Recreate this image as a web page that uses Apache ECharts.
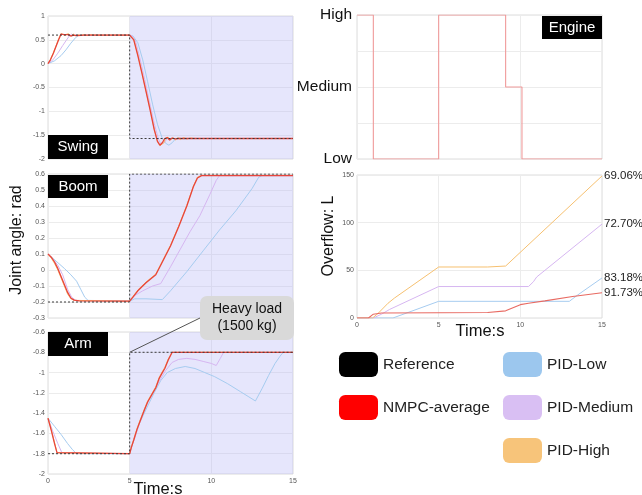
<!DOCTYPE html>
<html><head><meta charset="utf-8">
<script src="https://cdn.jsdelivr.net/npm/echarts@6/dist/echarts.min.js"></script>
<style>html,body{margin:0;padding:0;background:#fff}#c{width:642px;height:495px}</style>
</head><body><div id="c"></div>
<script>
// ---------------- DATA ----------------
const xTicks = [0, 5, 10, 15];
const engineLevelNames = ['Low', 'Medium', 'High'];
const engineTime = [0, 1, 5, 9.1, 10.1, 15];
const engineLevel = [2, 0, 2, 1, 0, 0];

// Swing [t, rad]
const swingRef = [[0,0.6],[5,0.6],[5,-1.57],[15,-1.57]];
const swingNMPC = [[0,0],[0.15,0.08],[0.33,0.22],[0.5,0.37],[0.65,0.5],[0.8,0.62],[0.9,0.65],[1.0,0.61],[1.1,0.57],[1.25,0.61],[1.4,0.58],[1.55,0.6],[1.8,0.59],[2.2,0.6],[5,0.6],[5.1,0.58],[5.25,0.5],[5.5,0.17],[5.75,-0.2],[6.0,-0.58],[6.25,-0.97],[6.5,-1.38],[6.7,-1.63],[6.85,-1.71],[7.0,-1.66],[7.15,-1.57],[7.3,-1.55],[7.45,-1.6],[7.6,-1.56],[7.8,-1.58],[8.0,-1.57],[15,-1.57]];
const swingHigh = [[0,0],[0.15,0.09],[0.33,0.23],[0.5,0.38],[0.65,0.52],[0.8,0.63],[0.9,0.66],[1.0,0.6],[1.1,0.57],[1.25,0.63],[1.4,0.58],[1.55,0.62],[1.7,0.58],[1.85,0.61],[2.0,0.59],[2.2,0.61],[2.4,0.59],[2.6,0.61],[2.8,0.6],[3.0,0.6],[5,0.6],[5.1,0.58],[5.25,0.51],[5.5,0.19],[5.75,-0.18],[6.0,-0.56],[6.25,-0.95],[6.5,-1.36],[6.7,-1.62],[6.85,-1.72],[6.95,-1.74],[7.1,-1.66],[7.2,-1.56],[7.35,-1.54],[7.5,-1.6],[7.65,-1.55],[7.8,-1.6],[7.95,-1.55],[8.1,-1.59],[8.3,-1.55],[8.5,-1.58],[8.7,-1.56],[9.0,-1.57],[15,-1.57]];
const swingMed = [[0,0],[0.3,0.08],[0.6,0.22],[0.9,0.38],[1.1,0.48],[1.3,0.58],[1.45,0.62],[1.6,0.59],[1.8,0.61],[2.0,0.59],[2.3,0.6],[5,0.6],[5.15,0.58],[5.35,0.48],[5.6,0.15],[5.9,-0.3],[6.2,-0.78],[6.5,-1.25],[6.75,-1.57],[6.9,-1.68],[7.0,-1.7],[7.15,-1.65],[7.3,-1.56],[7.45,-1.6],[7.6,-1.56],[7.8,-1.59],[8.0,-1.57],[15,-1.57]];
const swingLow = [[0,0],[0.4,0.06],[0.8,0.17],[1.1,0.29],[1.4,0.43],[1.7,0.55],[1.9,0.6],[5,0.6],[5.2,0.58],[5.5,0.44],[5.8,0.08],[6.1,-0.38],[6.4,-0.85],[6.7,-1.27],[7.0,-1.57],[7.2,-1.67],[7.4,-1.71],[7.6,-1.66],[7.8,-1.58],[8.0,-1.56],[8.3,-1.58],[8.6,-1.57],[15,-1.57]];

// Boom [t, rad]
const boomRef = [[0,-0.2],[5,-0.2],[5,0.6],[15,0.6]];
const boomNMPC = [[0,0.1],[0.2,0.08],[0.4,0.05],[0.6,0.01],[0.8,-0.04],[1.0,-0.09],[1.2,-0.14],[1.4,-0.175],[1.6,-0.188],[1.9,-0.193],[5,-0.195],[5.2,-0.17],[5.5,-0.13],[6.0,-0.08],[6.6,-0.03],[7.0,0.05],[7.5,0.15],[8.0,0.27],[8.5,0.4],[8.9,0.52],[9.15,0.575],[9.4,0.59],[15,0.59]];
const boomHigh = [[0,0.1],[0.2,0.075],[0.4,0.04],[0.6,0.0],[0.8,-0.05],[1.0,-0.1],[1.2,-0.15],[1.4,-0.18],[1.6,-0.19],[5,-0.195],[5.2,-0.165],[5.5,-0.125],[6.0,-0.075],[6.6,-0.025],[7.0,0.055],[7.5,0.155],[8.0,0.275],[8.5,0.405],[8.9,0.525],[9.15,0.58],[9.4,0.592],[15,0.592]];
const boomMed = [[0,0.1],[0.3,0.07],[0.6,0.03],[0.9,-0.03],[1.2,-0.12],[1.45,-0.17],[1.7,-0.19],[5,-0.195],[5.3,-0.16],[5.8,-0.13],[6.4,-0.1],[6.9,-0.085],[7.5,0.02],[8.1,0.13],[8.7,0.24],[9.3,0.34],[9.9,0.47],[10.3,0.56],[10.5,0.59],[15,0.59]];
const boomLow = [[0,0.1],[0.5,0.055],[1.0,0.01],[1.4,-0.03],[1.75,-0.07],[2.0,-0.12],[2.25,-0.17],[2.45,-0.19],[5,-0.195],[5.3,-0.18],[6.0,-0.18],[7.0,-0.185],[7.5,-0.13],[8.5,-0.01],[9.5,0.12],[10.5,0.25],[11.5,0.37],[12.5,0.51],[12.9,0.58],[13.1,0.59],[15,0.59]];

// Arm [t, rad]
const armRef = [[0,-1.8],[5,-1.8],[5,-0.8],[15,-0.8]];
const armNMPC = [[0,-1.45],[0.2,-1.57],[0.4,-1.7],[0.55,-1.79],[0.65,-1.8],[5,-1.8],[5.1,-1.74],[5.25,-1.665],[5.45,-1.56],[5.66,-1.47],[5.9,-1.37],[6.1,-1.29],[6.35,-1.22],[6.6,-1.15],[6.8,-1.06],[7.0,-1.0],[7.15,-0.96],[7.35,-0.88],[7.6,-0.8],[15,-0.8]];
const armHigh = [[0,-1.45],[0.2,-1.56],[0.4,-1.69],[0.55,-1.79],[0.65,-1.8],[5,-1.8],[5.1,-1.73],[5.25,-1.66],[5.45,-1.55],[5.66,-1.46],[5.9,-1.36],[6.1,-1.28],[6.35,-1.21],[6.6,-1.14],[6.8,-1.05],[7.0,-0.99],[7.15,-0.95],[7.35,-0.87],[7.6,-0.8],[15,-0.8]];
const armMed = [[0,-1.45],[0.3,-1.58],[0.6,-1.7],[0.85,-1.79],[0.95,-1.8],[5,-1.8],[5.1,-1.74],[5.3,-1.65],[5.6,-1.5],[6.0,-1.33],[6.4,-1.2],[6.8,-1.09],[7.2,-0.98],[7.6,-0.9],[8.0,-0.87],[8.5,-0.86],[9.0,-0.87],[9.5,-0.89],[10.0,-0.91],[10.3,-0.93],[10.55,-0.86],[10.75,-0.8],[15,-0.8]];
const armLow = [[0,-1.45],[0.4,-1.53],[0.8,-1.61],[1.2,-1.7],[1.5,-1.76],[1.75,-1.8],[5,-1.8],[5.1,-1.74],[5.3,-1.64],[5.6,-1.5],[6.07,-1.34],[6.5,-1.2],[6.9,-1.08],[7.3,-1.0],[7.8,-0.96],[8.4,-0.94],[9.0,-0.96],[9.6,-1.0],[10.2,-1.04],[11.0,-1.11],[11.8,-1.19],[12.3,-1.24],[12.7,-1.28],[13.1,-1.16],[13.5,-1.03],[13.9,-0.91],[14.2,-0.84],[14.4,-0.8],[15,-0.8]];

// Overflow [t, L]
const overNMPC = [[0,0],[0.7,0],[1.0,4],[1.5,5.3],[5,5.5],[8,5.7],[9.1,7.5],[10,14],[10.5,15.5],[11.5,18],[13.2,22.5],[15,26.5]];
const overHigh = [[0,0],[0.95,0],[1.3,5],[1.9,15.5],[2.3,21],[5,53.5],[8,53.5],[9.1,54.5],[15,149]];
const overMed = [[0,0],[1.0,0],[1.5,4],[2,9],[5,33],[10.5,33],[10.8,38],[11.0,43],[15,98.5]];
const overLow = [[0,0],[2.2,0],[5,17.5],[13,17.5],[13.5,24],[15,42]];
const overPct = {'NMPC-average':'91.73%','PID-Low':'83.18%','PID-Medium':'72.70%','PID-High':'69.06%'};

// ---------------- STYLE ----------------
const FONT = 'Liberation Sans, Arial, Helvetica, sans-serif';
const C = {ref:'#3a3a3a', nmpc:'#e8453c', low:'#a6ccf0', med:'#d6b6f1', high:'#f6c070', engine:'#f09a9a'};
const grids = [
  {left:48, top:16, width:245, height:143},
  {left:48, top:174, width:245, height:144},
  {left:48, top:332, width:245, height:142},
  {left:357, top:15, width:245, height:144},
  {left:357, top:175, width:245, height:143}
];
const yCfg = [
  {min:-2, max:1, interval:0.5},
  {min:-0.3, max:0.6, interval:0.1},
  {min:-2, max:-0.6, interval:0.2},
  {min:0, max:2, interval:0.5},
  {min:0, max:150, interval:50}
];
const tickLbl = {fontSize:7, color:'#555', fontFamily:FONT};

const xAxis = grids.map((g,i)=>({
  type:'value', gridIndex:i, min:xTicks[0], max:xTicks[xTicks.length-1], interval:xTicks[1]-xTicks[0],
  axisLine:{show:false}, axisTick:{show:false},
  axisLabel: Object.assign({show: i===2 || i===4, margin:4}, tickLbl),
  splitLine:{show:true, lineStyle:{color:'#ececec', width:1}}
}));
const yAxis = yCfg.map((c,i)=>({
  type:'value', gridIndex:i, min:c.min, max:c.max, interval:c.interval,
  axisLine:{show:false}, axisTick:{show:false},
  axisLabel: i===3 ? {fontSize:15.5, color:'#111', fontFamily:FONT, margin:5,
      formatter:v => (Number.isInteger(v) ? engineLevelNames[v] : '')}
    : Object.assign({margin:3}, tickLbl),
  splitLine:{show:true, lineStyle:{color:'#ececec', width:1}}
}));

function line(name, data, gi, color, width, z, extra){
  return Object.assign({
    type:'line', name, data, xAxisIndex:gi, yAxisIndex:gi, showSymbol:false, symbol:'none',
    lineStyle:{color, width}, itemStyle:{color}, z, animation:false, silent:true
  }, extra||{});
}
const shade = {silent:true, itemStyle:{color:'rgba(180,180,245,0.33)'}, data:[[{xAxis:5},{xAxis:15}]]};

const series = [];
const panels = [
  [swingRef, swingNMPC, swingHigh, swingMed, swingLow],
  [boomRef, boomNMPC, boomHigh, boomMed, boomLow],
  [armRef, armNMPC, armHigh, armMed, armLow]
];
panels.forEach((p,gi)=>{
  series.push(line('shade'+gi, [], gi, '#fff', 0, 1, {markArea:shade}));
  series.push(line('PID-Low', p[4], gi, C.low, 1, 2));
  series.push(line('PID-Medium', p[3], gi, C.med, 1, 3));
  series.push(line('PID-High', p[2], gi, C.high, 1, 4));
  series.push(line('NMPC-average', p[1], gi, C.nmpc, 1.3, 5));
  const r = line('Reference', p[0], gi, C.ref, 1, 6);
  r.lineStyle = {color:C.ref, width:1, type:[2,2]};
  series.push(r);
});
series.push(line('Engine', engineTime.map((t,i)=>[t, engineLevel[i]]), 3, C.engine, 1.1, 5, {step:'end'}));
const endLbl = name => ({endLabel:{show:true, formatter:overPct[name], fontSize:11.5, color:'#222', fontFamily:FONT, distance:2}});
series.push(line('PID-Low', overLow, 4, C.low, 1, 2, endLbl('PID-Low')));
series.push(line('PID-Medium', overMed, 4, C.med, 1, 3, endLbl('PID-Medium')));
series.push(line('PID-High', overHigh, 4, C.high, 1, 4, endLbl('PID-High')));
series.push(line('NMPC-average', overNMPC, 4, '#e86a62', 1.1, 5, endLbl('NMPC-average')));

const legendBase = {orient:'vertical', top:352, padding:0, itemWidth:39, itemHeight:25, itemGap:18, icon:'roundRect',
  selectedMode:false, itemStyle:{borderWidth:0}, textStyle:{fontSize:15.5, color:'#222', fontFamily:FONT}};
const legend = [
  Object.assign({left:339, data:[{name:'Reference', itemStyle:{color:'#000'}}, {name:'NMPC-average', itemStyle:{color:'#ff0000'}}]}, legendBase),
  Object.assign({left:503, data:[{name:'PID-Low', itemStyle:{color:'#9cc7ee'}}, {name:'PID-Medium', itemStyle:{color:'#d9bff3'}}, {name:'PID-High', itemStyle:{color:'#f7c47a'}}]}, legendBase)
];

const ZG = 200;
function tag(text, x, y, w, h){
  return [
    {type:'rect', z:ZG, shape:{x, y, width:w, height:h}, style:{fill:'#000'}},
    {type:'text', z:ZG+1, x:x+w/2, y:y+h/2, style:{text, fill:'#fff', font:'15px '+FONT, textAlign:'center', textVerticalAlign:'middle'}}
  ];
}
const graphic = [].concat(
  tag('Swing', 48, 135, 60, 24),
  tag('Boom', 48, 175, 60, 23),
  tag('Arm', 48, 332, 60, 24),
  tag('Engine', 542, 16, 60, 23),
  [
  {type:'text', x:17, y:240, rotation:Math.PI/2, z:ZG, style:{text:'Joint angle: rad', font:'16px '+FONT, fill:'#111', textAlign:'center', textVerticalAlign:'middle'}},
  {type:'text', x:158, y:489, z:ZG, style:{text:'Time:s', font:'16.5px '+FONT, fill:'#111', textAlign:'center', textVerticalAlign:'middle'}},
  {type:'text', x:329, y:236, rotation:Math.PI/2, z:ZG, style:{text:'Overflow: L', font:'16px '+FONT, fill:'#111', textAlign:'center', textVerticalAlign:'middle'}},
  {type:'text', x:480, y:331, z:ZG, style:{text:'Time:s', font:'16.5px '+FONT, fill:'#111', textAlign:'center', textVerticalAlign:'middle'}},
  {type:'rect', z:ZG+2, shape:{x:200, y:296, width:94, height:44, r:7}, style:{fill:'#d9d9d9'}},
  {type:'text', z:ZG+3, x:247, y:318, style:{text:'Heavy load\n(1500 kg)', font:'14px '+FONT, fill:'#111', textAlign:'center', textVerticalAlign:'middle', lineHeight:17}}
  ]
);

const chart = echarts.init(document.getElementById('c'), null, {renderer:'canvas'});
chart.setOption({
  animation:false, backgroundColor:'#fff',
  grid: grids.map(g=>Object.assign({show:true, borderColor:'#dcdcdc', borderWidth:1, backgroundColor:'transparent'}, g)),
  xAxis, yAxis, series, legend, graphic
});
// connector from the load annotation to the load event point (t=5, arm reference)
const p = chart.convertToPixel({gridIndex:2}, [armRef[2][0], armRef[2][1]]);
chart.setOption({graphic: graphic.concat([{type:'line', z:ZG+1, shape:{x1:200, y1:318, x2:p[0], y2:p[1]}, style:{stroke:'#555', lineWidth:1}}])});
</script></body></html>
